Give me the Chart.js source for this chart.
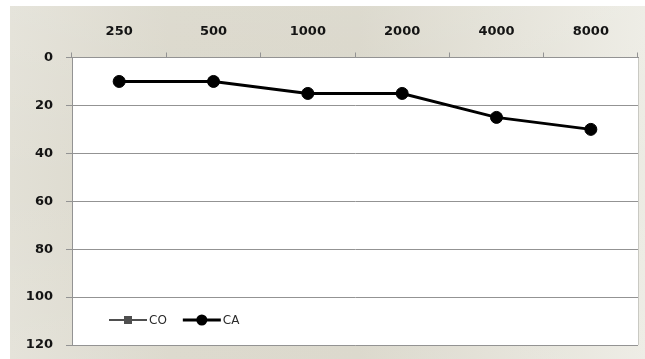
<!DOCTYPE html>
<html>
<head>
<meta charset="utf-8">
<script src="https://cdn.jsdelivr.net/npm/chart.js@4/dist/chart.umd.min.js"></script>
<style>
  html, body { margin: 0; padding: 0; background: #ffffff; }
  #wrap { width: 645px; height: 359px; position: relative; }
</style>
</head>
<body>
<div id="wrap"><canvas id="c" width="645" height="359"></canvas></div>
<script>
// Audiogram: hearing threshold (dB) per frequency (Hz)
const frequencies = ['250', '500', '1000', '2000', '4000', '8000'];
const caValues = [10, 10, 15, 15, 25, 30];
const coValues = [null, null, null, null, null, null];
const yTicks = [0, 20, 40, 60, 80, 100, 120];

const tickFont = { family: 'DejaVu Sans', size: 13, weight: 'bold' };
const axisGrey = '#939393';

// Panel background: white margin with a soft beige gradient behind the plot
const panelBackground = {
  id: 'panelBackground',
  beforeDraw(chart) {
    const ctx = chart.ctx;
    const w = chart.width, h = chart.height;
    ctx.save();
    ctx.fillStyle = '#ffffff';
    ctx.fillRect(0, 0, w, h);
    const g = ctx.createLinearGradient(10, 0, w, 0);
    g.addColorStop(0, '#e2e0d6');
    g.addColorStop(0.25, '#d9d6c9');
    g.addColorStop(0.55, '#d8d5c8');
    g.addColorStop(1, '#ecebe3');
    ctx.fillStyle = g;
    ctx.fillRect(10, 6, w - 10, h - 6);
    const v = ctx.createLinearGradient(0, 6, 0, h);
    v.addColorStop(0, 'rgba(255,255,255,0.12)');
    v.addColorStop(0.5, 'rgba(255,255,255,0)');
    v.addColorStop(1, 'rgba(255,255,255,0.1)');
    ctx.fillStyle = v;
    ctx.fillRect(10, 6, w - 10, h - 6);
    const a = chart.chartArea;
    ctx.fillStyle = '#ffffff';
    ctx.fillRect(a.left, a.top, a.right - a.left, a.bottom - a.top);
    ctx.strokeStyle = '#c9c9c3';
    ctx.lineWidth = 1;
    ctx.beginPath();
    ctx.moveTo(a.right + 0.5, a.top);
    ctx.lineTo(a.right + 0.5, a.bottom);
    ctx.stroke();
    ctx.restore();
  }
};

// Legend drawn inside the plot, near the bottom-left corner
const innerLegend = {
  id: 'innerLegend',
  afterDraw(chart) {
    const ctx = chart.ctx;
    const y = 320;
    let x = 109;
    ctx.save();
    ctx.font = '12px "DejaVu Sans"';
    ctx.textBaseline = 'middle';
    chart.data.datasets.forEach(ds => {
      const lineLen = 38;
      ctx.strokeStyle = ds.borderColor;
      ctx.lineWidth = ds.borderWidth;
      ctx.beginPath();
      ctx.moveTo(x, y);
      ctx.lineTo(x + lineLen, y);
      ctx.stroke();
      const cx = x + lineLen / 2;
      ctx.fillStyle = ds.pointBackgroundColor;
      if (ds.pointStyle === 'rect') {
        ctx.fillRect(cx - 4, y - 4, 8, 8);
      } else {
        ctx.beginPath();
        ctx.arc(cx, y, 5.5, 0, Math.PI * 2);
        ctx.fill();
      }
      ctx.fillStyle = '#2a2a2a';
      ctx.fillText(ds.label, x + lineLen + 2, y + 0.5);
      x += lineLen + 2 + ctx.measureText(ds.label).width + 16;
    });
    ctx.restore();
  }
};

new Chart(document.getElementById('c'), {
  type: 'line',
  data: {
    labels: frequencies,
    datasets: [
      {
        label: 'CO',
        data: coValues,
        borderColor: '#4f4f4f',
        backgroundColor: '#4f4f4f',
        pointBackgroundColor: '#4f4f4f',
        pointBorderColor: '#4f4f4f',
        pointStyle: 'rect',
        pointRadius: 4,
        borderWidth: 2
      },
      {
        label: 'CA',
        data: caValues,
        borderColor: '#000000',
        backgroundColor: '#000000',
        pointBackgroundColor: '#000000',
        pointBorderColor: '#000000',
        pointStyle: 'circle',
        pointRadius: 6,
        pointBorderWidth: 1,
        borderWidth: 3
      }
    ]
  },
  options: {
    responsive: false,
    animation: false,
    layout: { padding: { left: 10, top: 6, right: 7, bottom: 14 } },
    plugins: {
      legend: { display: false },
      tooltip: { enabled: false }
    },
    scales: {
      x: {
        type: 'category',
        position: 'top',
        offset: true,
        grid: {
          offset: true,
          drawOnChartArea: false,
          drawTicks: true,
          tickLength: 5,
          color: axisGrey
        },
        border: { display: true, color: axisGrey, width: 1 },
        ticks: { font: tickFont, color: '#141414', padding: 13, maxRotation: 0 },
        afterFit(scale) {
          scale.height = 51.5;
          scale.paddingLeft = 0;
          scale.paddingRight = 0;
        }
      },
      y: {
        reverse: true,
        min: 0,
        max: 120,
        afterBuildTicks(scale) { scale.ticks = yTicks.map(v => ({ value: v })); },
        grid: {
          color: axisGrey,
          lineWidth: 1,
          drawTicks: true,
          tickLength: 6
        },
        border: { display: true, color: axisGrey, width: 1 },
        ticks: { font: tickFont, color: '#141414', padding: 13 },
        afterFit(scale) {
          scale.width = 62;
          scale.paddingTop = 0;
          scale.paddingBottom = 0;
        }
      }
    }
  },
  plugins: [panelBackground, innerLegend]
});
</script>
</body>
</html>
